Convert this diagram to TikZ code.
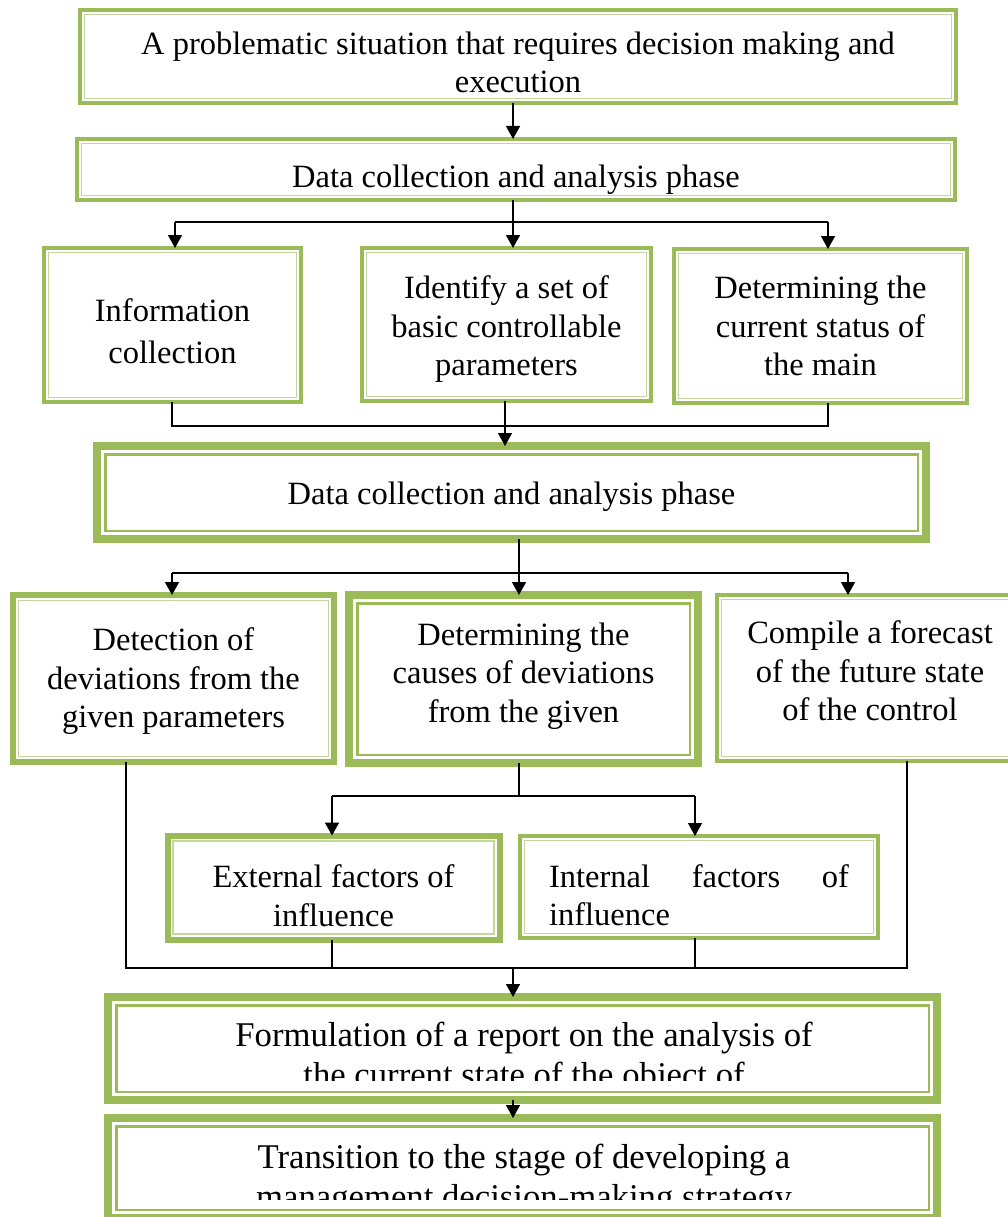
\documentclass[tikz,border=0pt]{standalone}
\usepackage{fontspec}
\setmainfont{Liberation Serif}
\usetikzlibrary{arrows.meta, calc}
\definecolor{boxgreen}{RGB}{155,187,89}
\definecolor{palegreen}{RGB}{195,214,155}
\tikzstyle{box} = [draw=boxgreen, fill=white, line width=4pt, outer sep=0pt, inner sep=0pt]
\tikzstyle{midbox} = [box, line width=6pt]
\tikzstyle{heavybox} = [box, line width=8pt]
\tikzstyle{rim} = [draw=palegreen, line width=1.2pt]
\tikzstyle{heavyrim} = [draw=boxgreen, line width=2.5pt]
\tikzstyle{wire} = [line width=1.5pt]
\tikzstyle{arrow} = [wire, -{Triangle[length=13pt,width=14pt]}]
\tikzset{every label/.style={inner sep=0pt, align=center, font=\fontsize{32.5}{38.5}\selectfont}}

\begin{document}
\begin{tikzpicture}[x=1pt, y=-1pt]
        \path[use as bounding box] (0,0) rectangle (1008,1217);
        \clip (0,0) rectangle (1008,1217);

        % boxes
        \node at (518,56.5) [box, minimum width=876pt, minimum height=93pt, label={[yshift=-6pt]center:A problematic situation that requires decision making and\\execution}](problem) {};
        \node at (516,169.5) [box, minimum width=878pt, minimum height=61pt, label={[yshift=-10pt]center:Data collection and analysis phase}](collect) {};

        \node at (172.5,325) [box, minimum width=257pt, minimum height=154pt, label={[yshift=-6pt, font=\fontsize{32.5}{42}\selectfont]center:Information\\collection}](info) {};
        \node at (506.5,324.5) [box, minimum width=289pt, minimum height=153pt, label={[yshift=-5pt]center:Identify a set of\\basic controllable\\parameters}](params) {};
        \node at (820.5,326) [box, minimum width=293pt, minimum height=154pt, label={center:Determining the\\current status of\\the main}](status) {};

        \node at (511.5,492.5) [heavybox, minimum width=829pt, minimum height=93pt, label={[yshift=-4pt]center:Data collection and analysis phase}](analysis) {};

        \node at (173.5,678.5) [midbox, minimum width=321pt, minimum height=167pt, label={[yshift=-3pt]center:Detection of\\deviations from the\\given parameters}](detect) {};
        \node at (523.5,679) [heavybox, minimum width=349pt, minimum height=168pt, label={[yshift=3pt]center:Determining the\\causes of deviations\\from the given}](causes) {};
        \node at (870,678) [box, minimum width=306pt, minimum height=166pt, label={[yshift=7pt]center:Compile a forecast\\of the future state\\of the control}](forecast) {};

        \node at (333.5,887.5) [midbox, minimum width=332pt, minimum height=104pt, label={[yshift=-8pt]center:External factors of\\influence}](external) {};
        \node at (699,887) [box, minimum width=358pt, minimum height=102pt, label={[yshift=-8pt, text width=300pt, align=left]center:Internal\hfill factors\hfill of\\influence}](internal) {};

        \node at (522.5,1048.5) [heavybox, minimum width=829pt, minimum height=103pt](report) {};
        \node at (522.5,1168) [heavybox, minimum width=829pt, minimum height=100pt](transition) {};

        % inner frame lines
        \foreach \n in {problem, collect, info, params, status, forecast, internal}
            \draw[rim] ($(\n.south west)+(4.5,-4.5)$) rectangle ($(\n.north east)+(-4.5,4.5)$);
        \foreach \n in {detect, external}
            \draw[rim] ($(\n.south west)+(5.5,-5.5)$) rectangle ($(\n.north east)+(-5.5,5.5)$);
        \foreach \n in {analysis, causes, report, transition}
            \draw[heavyrim] ($(\n.south west)+(8.25,-8.25)$) rectangle ($(\n.north east)+(-8.25,8.25)$);

        % texts cut off by the frame
        \begin{scope}
            \clip (104,993) rectangle (941,1080);
            \node at (524,1058) [font=\fontsize{34.7}{40}\selectfont, align=center](reporttext) {Formulation of a report on the analysis of\\the current state of the object of};
        \end{scope}
        \begin{scope}
            \clip (104,1114) rectangle (941,1199);
            \node at (524,1180) [font=\fontsize{34.7}{40}\selectfont, align=center](transitiontext) {Transition to the stage of developing a\\management decision-making strategy};
        \end{scope}

        % connectors
        \coordinate (trunk) at (513,222);
        \coordinate (splitl) at (175,222);
        \coordinate (splitr) at (828,222);
        \draw[arrow] (problem.south -| trunk) -- (collect.north -| trunk);
        \draw[wire] (collect.south -| trunk) -- (trunk);
        \draw[wire] (splitl) -- (splitr);
        \draw[arrow] (splitl) -- (splitl |- info.north);
        \draw[arrow] (trunk) -- (trunk |- params.north);
        \draw[arrow] (splitr) -- (splitr |- status.north);

        \coordinate (joinl) at (172,426);
        \coordinate (joinm) at (505,426);
        \coordinate (joinr) at (828,426);
        \draw[wire] (joinl |- info.south) -- (joinl) -- (joinr) -- (joinr |- status.south);
        \draw[arrow] (joinm |- params.south) -- (joinm |- analysis.north);

        \coordinate (fanl) at (172,573);
        \coordinate (fanm) at (519,573);
        \coordinate (fanr) at (848,573);
        \draw[wire] (fanm |- analysis.south) -- (fanm);
        \draw[wire] (fanl) -- (fanr);
        \draw[arrow] (fanl) -- (fanl |- detect.north);
        \draw[arrow] (fanm) -- (fanm |- causes.north);
        \draw[arrow] (fanr) -- (fanr |- forecast.north);

        \coordinate (causesout) at (519,796);
        \coordinate (factorl) at (332,796);
        \coordinate (factorr) at (695,796);
        \draw[wire] (causesout |- causes.south) -- (causesout);
        \draw[wire] (factorl) -- (factorr);
        \draw[arrow] (factorl) -- (factorl |- external.north);
        \draw[arrow] (factorr) -- (factorr |- internal.north);

        \coordinate (raill) at (126,968);
        \coordinate (railr) at (907,968);
        \coordinate (merge) at (513,968);
        \draw[wire] (raill |- detect.south) -- (raill) -- (railr) -- (railr |- forecast.south);
        \draw[wire] (factorl |- external.south) -- (factorl |- merge);
        \draw[wire] (factorr |- internal.south) -- (factorr |- merge);
        \draw[arrow] (merge) -- (merge |- report.north);
        \draw[arrow] (merge |- report.south) -- (merge |- transition.north);

\end{tikzpicture}
\end{document}
